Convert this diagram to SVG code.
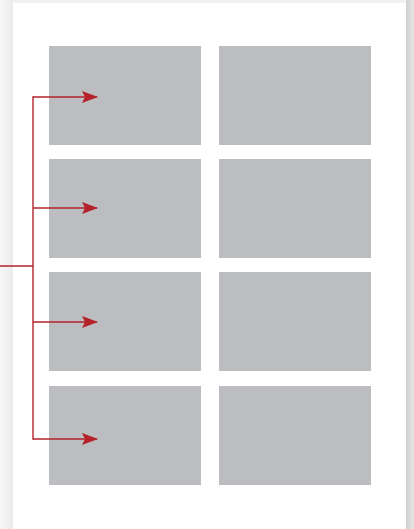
<svg xmlns="http://www.w3.org/2000/svg" width="414" height="529" viewBox="0 0 414 529">
  <defs>
    <linearGradient id="shadowL" x1="0" y1="0" x2="1" y2="0">
      <stop offset="0" stop-color="#f7f7f7"/>
      <stop offset="1" stop-color="#ebebeb"/>
    </linearGradient>
    <linearGradient id="shadowR" x1="0" y1="0" x2="1" y2="0">
      <stop offset="0" stop-color="#d0d0d0"/>
      <stop offset="1" stop-color="#e6e6e6"/>
    </linearGradient>
    <marker id="arrow" viewBox="0 0 16 12" refX="15" refY="6" markerWidth="16" markerHeight="12" markerUnits="userSpaceOnUse" orient="auto">
      <path d="M0,0 L16,6 L0,12 L3,6 Z" fill="#b5222a"/>
    </marker>
  </defs>
  <style>
    .cell { fill: #bcbdc1; }
    .conn { fill: none; stroke: #b5222a; stroke-width: 1.4; }
  </style>
  <rect x="0" y="0" width="414" height="529" fill="#f2f2f2"/>
  <rect x="0" y="0" width="13" height="529" fill="url(#shadowL)"/>
  <rect x="406" y="0" width="8" height="529" fill="url(#shadowR)"/>
  <rect x="13" y="3" width="393" height="526" fill="#ffffff"/>

  <g id="node-r1c1"><rect class="cell" x="49" y="46" width="152" height="99"/></g>
  <g id="node-r1c2"><rect class="cell" x="219" y="46" width="152" height="99"/></g>
  <g id="node-r2c1"><rect class="cell" x="49" y="159" width="152" height="99"/></g>
  <g id="node-r2c2"><rect class="cell" x="219" y="159" width="152" height="99"/></g>
  <g id="node-r3c1"><rect class="cell" x="49" y="272" width="152" height="99"/></g>
  <g id="node-r3c2"><rect class="cell" x="219" y="272" width="152" height="99"/></g>
  <g id="node-r4c1"><rect class="cell" x="49" y="386" width="152" height="99"/></g>
  <g id="node-r4c2"><rect class="cell" x="219" y="386" width="152" height="99"/></g>

  <g id="connectors">
    <line class="conn" x1="0" y1="266" x2="33" y2="266"/>
    <line class="conn" x1="33" y1="96.3" x2="33" y2="439.7"/>
    <line class="conn" x1="33" y1="97" x2="97" y2="97" marker-end="url(#arrow)"/>
    <line class="conn" x1="33" y1="208" x2="97" y2="208" marker-end="url(#arrow)"/>
    <line class="conn" x1="33" y1="322" x2="97" y2="322" marker-end="url(#arrow)"/>
    <line class="conn" x1="33" y1="439" x2="97" y2="439" marker-end="url(#arrow)"/>
  </g>
</svg>
